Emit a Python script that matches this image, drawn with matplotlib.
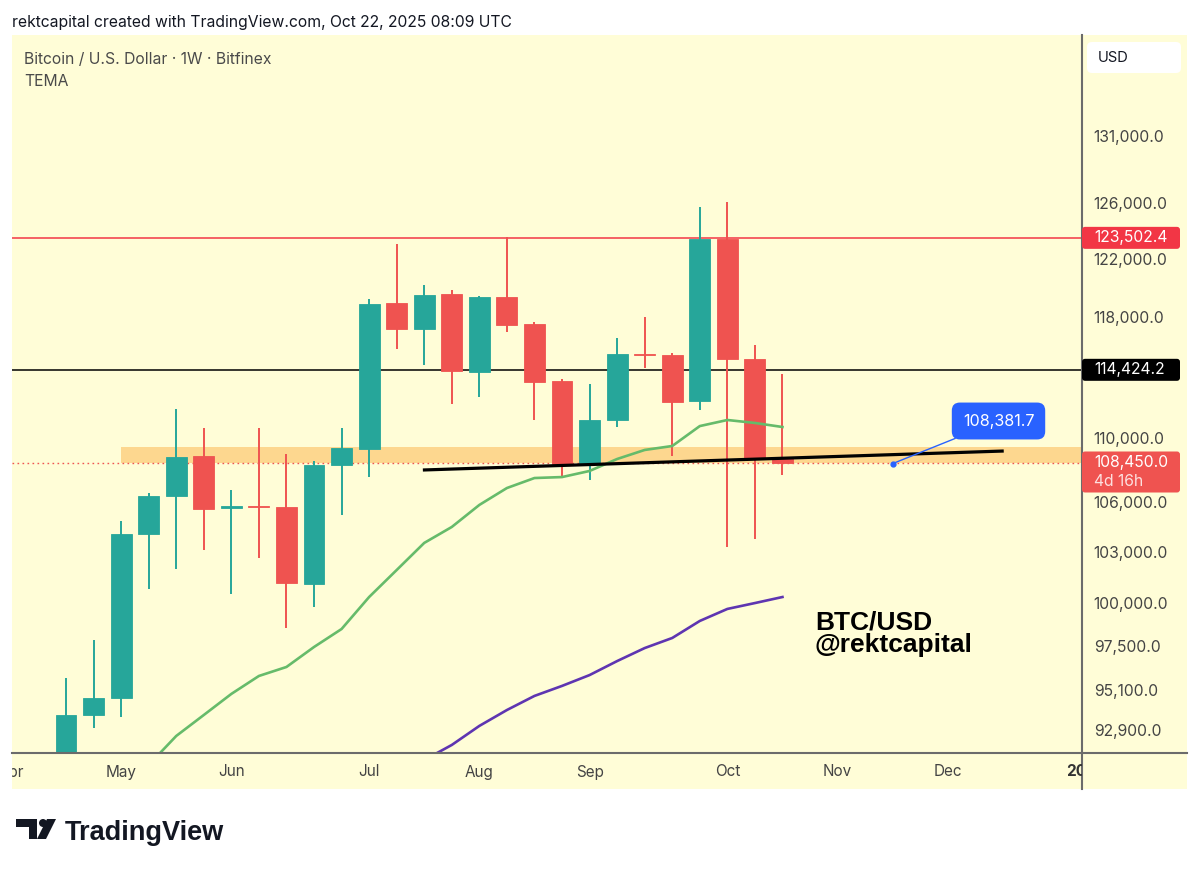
import numpy as np
import pandas as pd
import matplotlib
matplotlib.use("Agg")
import matplotlib.pyplot as plt
import matplotlib.patches as mpatches
import matplotlib.transforms as mtransforms
from matplotlib.ticker import NullLocator, NullFormatter

plt.rcParams["font.family"] = ["Inter", "DejaVu Sans"]
HELV = ["Liberation Sans", "DejaVu Sans"]

# ---- data (weekly BTC/USD, Bitfinex) ----
FIRST_WEEK = "2025-04-21"
opens = [85200, 93710, 94640, 104050, 106370, 108860, 105630, 105750, 105690,
         101090, 108290, 109300, 118930, 117160, 119550, 114280, 119350, 117500,
         113690, 108360, 111150, 115480, 115410, 112380, 123420, 115140, 108750]
highs = [95740, 97870, 104840, 106550, 111860, 110640, 106740, 110640, 108990,
         108540, 110640, 119210, 123060, 120180, 119830, 119400, 123560, 117600,
         113820, 113490, 116550, 117980, 115540, 125720, 126090, 116080, 114150]
lows = [85100, 93010, 93600, 100800, 101970, 103100, 100510, 102620, 98550,
        99750, 105210, 107540, 115810, 114740, 112180, 112640, 116950, 111150,
        107540, 107360, 110700, 114540, 108860, 111790, 103280, 103750, 107670]
closes = [93710, 94640, 104050, 106370, 108800, 105570, 105750, 105690, 101150,
          108290, 109360, 118870, 117160, 119480, 114340, 119350, 117430, 113620,
          108360, 111150, 115480, 115410, 112310, 123420, 115140, 108750, 108450]

tema_fast = [np.nan, np.nan, 89210, 91040, 92580, 93710, 94860, 95850, 96350,
             97470, 98490, 100330, 101910, 103520, 104480, 105820, 106860, 107480,
             107540, 107920, 108670, 109240, 109490, 110760, 111150, 110960, 110700]
tema_slow = [np.nan] * 13 + [91300, 92100, 93120, 93980, 94750, 95300, 95900,
                             96680, 97410, 97980, 98950, 99640, 99980, 100330]

price_ticks = [92900, 95100, 97500, 100000, 103000, 106000, 110000,
               118000, 122000, 126000, 131000]

resistance = 123502.4
mid_level = 114424.2
last_price = 108450.0
bar_countdown = "4d 16h"
zone_low, zone_high, zone_start = 108417, 109427, 2
trend_x = [12.95, 34.03]
trend_y = [107980, 109173]
marker_x, marker_price = 30, 108381.7

W, H = 1200, 869
BG = "#FFFDD7"
UP = "#26A69A"
DOWN = "#EF5350"
TXT = "#444444"


def fx(px):
    return px / W


def fy(py):
    return 1 - py / H


fig = plt.figure(figsize=(12, 8.69), dpi=100)
fig.patch.set_facecolor("white")
fig.add_artist(mpatches.Rectangle((fx(12), fy(789)), fx(1187) - fx(12), fy(35) - fy(789),
                                  transform=fig.transFigure, fc=BG, ec="none", zorder=-10))

ax = fig.add_axes([fx(12), fy(753), fx(1082) - fx(12), fy(35) - fy(753)])
ax.set_facecolor(BG)
ax.set_yscale("log")
ax.set_xlim(-1.96, 36.87)
ax.set_ylim(91672, 138882)
for s in ax.spines.values():
    s.set_visible(False)

# price scale
ax.yaxis.tick_right()
ax.yaxis.set_minor_locator(NullLocator())
ax.yaxis.set_minor_formatter(NullFormatter())
ax.set_yticks(price_ticks)
ax.set_yticklabels([f"{v:,.1f}" for v in price_ticks])
ax.tick_params(axis="y", which="both", length=0, pad=8.5, labelsize=11.3, labelcolor=TXT)
ax.set_xticks([])

# separators
fig.add_artist(plt.Line2D([fx(1082), fx(1082)], [fy(35), fy(789)], transform=fig.transFigure,
                          color="#6b6b6b", lw=1.5))
fig.add_artist(plt.Line2D([fx(12), fx(1187)], [fy(753), fy(753)], transform=fig.transFigure,
                          color="#6b6b6b", lw=1.5))

# time axis labels (first weekly bar of each month)
start = pd.Timestamp(FIRST_WEEK)
axis_weeks = pd.date_range("2025-03-31", "2026-01-12", freq="W-MON")
trans_x = mtransforms.blended_transform_factory(ax.transData, fig.transFigure)
clip = mtransforms.TransformedBbox(
    mtransforms.Bbox([[fx(12), fy(789)], [fx(1082), fy(753)]]), fig.transFigure)
for prev, d in zip(axis_weeks[:-1], axis_weeks[1:]):
    if d.month == prev.month:
        continue
    pos = (d - start).days / 7
    is_year = d.month == 1
    lab = str(d.year) if is_year else d.strftime("%b")
    t = fig.text(pos, fy(772), lab, transform=trans_x, ha="center", va="center",
                 fontsize=11, color=TXT if not is_year else "#333333",
                 fontweight="bold" if is_year else "normal")
    t.set_clip_box(clip)
    t.set_clip_on(True)

# horizontal levels and zone
ax.axhline(resistance, color="#F23645", lw=1.1, zorder=2)
ax.axhline(mid_level, color="black", lw=1.1, zorder=2)
ax.fill_between([zone_start, 40], zone_low, zone_high, color="#FDD78F", lw=0, zorder=1)
ax.axhline(last_price, color=DOWN, lw=1.0, ls=(0, (1.2, 2.4)), zorder=2)

# candles
x = np.arange(len(opens))
o = np.array(opens, float)
c = np.array(closes, float)
cols = np.where(c >= o, UP, DOWN)
ax.vlines(x, lows, highs, colors=cols, lw=1.4, zorder=3)
ax.bar(x, np.abs(c - o), bottom=np.minimum(o, c), width=0.76, color=cols,
       edgecolor=cols, linewidth=0.6, zorder=4)

# TEMA lines
ax.plot(x, tema_fast, color="#66BB6A", lw=1.9, zorder=4.5, solid_joinstyle="round")
ax.plot(x, tema_slow, color="#5E35B1", lw=1.9, zorder=4.5, solid_joinstyle="round")

# trend line
ax.plot(trend_x, trend_y, color="black", lw=2.3, zorder=5, solid_capstyle="butt")

# price marker callout
ax.plot([marker_x], [marker_price], "o", color="#2962FF", ms=3.5, zorder=6)
ax.annotate(f"{marker_price:,.1f}", xy=(marker_x, marker_price), xytext=(33.84, 111085),
            ha="center", va="center", fontsize=11.6, color="white", zorder=7,
            bbox=dict(boxstyle="round,pad=0.68,rounding_size=0.5", fc="#2962FF", ec="none"),
            arrowprops=dict(arrowstyle="-", color="#2962FF", lw=1.0, shrinkA=0, shrinkB=0))

# chart text
ax.text(27.18, 98490, "BTC/USD", fontsize=19, fontweight="bold", color="black",
        ha="left", va="baseline", zorder=6, family=HELV)
ax.text(27.18, 97188, "@rektcapital", fontsize=19, fontweight="bold", color="black",
        ha="left", va="baseline", zorder=6, family=HELV)

fig.canvas.draw()
ident = mtransforms.IdentityTransform()


def price_tag(value, fc, lines):
    ypix = ax.transData.transform((0, value))[1]
    top = ypix + 11
    h = 22 + 19 * (len(lines) - 1)
    fig.add_artist(mpatches.FancyBboxPatch((1082, top - h), 98, h,
                                           boxstyle="round,pad=0,rounding_size=3",
                                           transform=ident, fc=fc, ec="none", zorder=8))
    for i, s in enumerate(lines):
        fig.text(1094, ypix - 19 * i, s, transform=ident, ha="left", va="center",
                 fontsize=11.3, color="white" if i == 0 else "#FDE0DF", zorder=9)


price_tag(resistance, "#F23645", [f"{resistance:,.1f}"])
price_tag(mid_level, "black", [f"{mid_level:,.1f}"])
price_tag(last_price, DOWN, [f"{last_price:,.1f}", bar_countdown])

# currency box
fig.add_artist(mpatches.FancyBboxPatch((1087, H - 73), 94, 31,
                                       boxstyle="round,pad=0,rounding_size=5",
                                       transform=ident, fc="white", ec="none", zorder=8))
fig.text(fx(1098), fy(57.5), "USD", ha="left", va="center", fontsize=10.6, color="#131722", zorder=9)

# headers
fig.text(fx(12), fy(23), "rektcapital created with TradingView.com, Oct 22, 2025 08:09 UTC",
         ha="left", va="center", fontsize=11.3, color="#131722")
fig.text(fx(24), fy(59), "Bitcoin / U.S. Dollar · 1W · Bitfinex", ha="left", va="center",
         fontsize=11.3, color="#4a4a4a")
fig.text(fx(24), fy(81), "TEMA", ha="left", va="center", fontsize=11.3, color="#4a4a4a")

# TradingView logo
logo = "#131722"
fig.add_artist(mpatches.Polygon([(16, H - 819), (37, H - 819), (37, H - 839), (29, H - 839),
                                 (29, H - 827), (16, H - 827)], closed=True,
                                transform=ident, fc=logo, ec="none"))
fig.add_artist(mpatches.Circle((43, H - 823), 4, transform=ident, fc=logo, ec="none"))
fig.add_artist(mpatches.Polygon([(47, H - 819), (56, H - 819), (46, H - 839), (37, H - 839)],
                                closed=True, transform=ident, fc=logo, ec="none"))
fig.text(fx(65), fy(840), "TradingView", ha="left", va="baseline", fontsize=19.5,
         fontweight="bold", color=logo, family=HELV)

fig.savefig("out.png", dpi=100, facecolor="white")
